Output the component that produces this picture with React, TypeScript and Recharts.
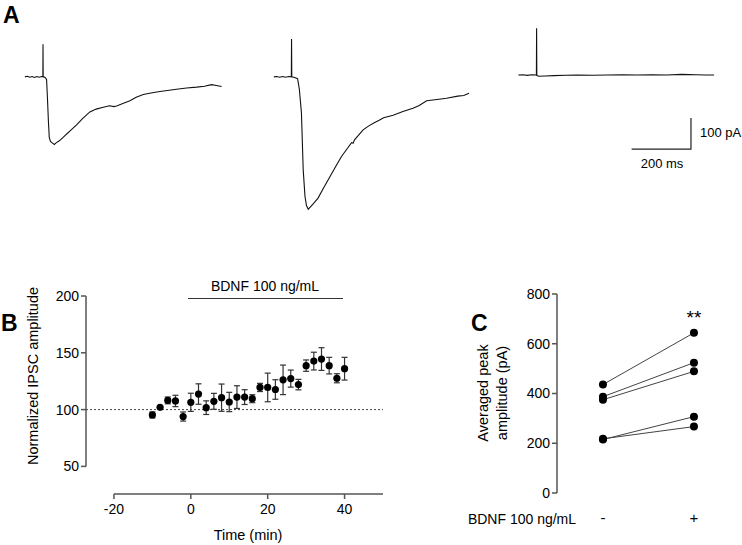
import React from "react";
import {
  LineChart,
  Line,
  XAxis,
  YAxis,
  ComposedChart,
  Scatter,
  ErrorBar,
  ReferenceLine,
} from "recharts";

const FONT = "'Liberation Sans', Arial, Helvetica, sans-serif";
const AXIS = "#555";

// Panel A: example sweeps, [time from sweep start (ms), current (pA)]
const sweepControl = [
  [0, 0], [8, 2], [16, -1], [24, 1], [32, -2], [40, 1], [48, -1], [56, 1], [60.5, 0], [61, 105], [61.5, 1],
  [68, -2], [73, -8], [76, -70], [79, -140], [82, -195], [86, -208], [92, -213],
  [99, -218], [106, -212], [115, -207], [128, -196], [140, -185], [155, -172],
  [174, -155], [195, -134], [219, -113], [240, -104], [264, -98], [285, -93],
  [300, -96], [309, -94], [330, -86], [354, -77], [375, -66], [399, -57],
  [425, -52], [455, -47], [480, -44], [511, -40], [545, -36], [579, -33],
  [605, -30], [629, -25], [645, -28], [663, -31],
];
const sweepBdnf = [
  [0, 0], [10, 1], [20, -1], [30, 1], [40, -1], [50, 1], [59, 0], [59.7, 122], [60.5, 0],
  [70, -2], [80, -6], [86, -40], [93, -116], [99, -300], [105, -386], [110, -415],
  [116, -427], [125, -418], [137, -405], [149, -391], [168, -358], [189, -322],
  [208, -290], [228, -257], [247, -232], [262, -212], [267, -214], [272, -203],
  [285, -189], [301, -171], [320, -158], [340, -147], [355, -140], [370, -132],
  [402, -124], [435, -112], [469, -101], [490, -92], [515, -77], [550, -73],
  [582, -69], [620, -62], [640, -60], [658, -53],
];
const sweepBlocked = [
  [0, 6], [15, 7], [30, 5], [45, 7], [61, 6], [61.7, 157], [62.4, 4], [70, 2], [90, 3],
  [120, 4], [160, 5], [200, 6], [250, 5], [300, 6], [350, 7], [400, 6], [450, 7],
  [500, 6], [550, 8], [600, 7], [630, 6], [660, 6],
];
const sweepStarts = [84, 923, 1747];
const scaleMs = 200;
const scalePa = 100;

// Panel B: normalized IPSC amplitude over time
const timeMin = [-10, -8, -6, -4, -2, 0, 2, 4, 6, 8, 10, 12, 14, 16, 18, 20, 22, 24, 26, 28, 30, 32, 34, 36, 38, 40];
const ipscMean = [95.3, 102, 108.1, 107.6, 93.9, 106.4, 113.7, 101.7, 107.3, 110.5, 106.7, 111, 111, 109.6, 119.5, 119.5, 117.7, 126.2, 127.3, 122, 138.7, 142.7, 144.5, 138.7, 127.6, 136];
const ipscSem = [2.6, 1, 3, 5, 4, 8, 9, 6, 7, 12, 8.5, 10, 6.5, 3.5, 3.6, 12.6, 8.6, 13, 7.5, 4.6, 5, 7.8, 10, 7.3, 4, 10];

// Panel C: averaged peak amplitude, paired cells
const conditionLabels = ["-", "+"];
const ampBefore = [436, 387, 375, 215, 218];
const ampAfter = [644, 524, 489, 307, 267];

const toPoints = (sweep: number[][], start: number) =>
  sweep.map(([t, v]) => ({ t: start + t, v }));

const traces = [sweepControl, sweepBdnf, sweepBlocked].map((s, i) => toPoints(s, sweepStarts[i]));
const scaleBar = [
  { t: 2129, v: -233 },
  { t: 2129 + scaleMs, v: -233 },
  { t: 2129 + scaleMs, v: -233 + scalePa },
];

const bData = timeMin.map((t, i) => ({ t, mean: ipscMean[i], sem: ipscSem[i] }));
const pairs = ampBefore.map((a, i) => [
  { x: 0, y: a },
  { x: 1, y: ampAfter[i] },
]);

const abs = (left: number, top: number, extra: React.CSSProperties = {}): React.CSSProperties => ({
  position: "absolute",
  left,
  top,
  fontFamily: FONT,
  color: "#000",
  whiteSpace: "nowrap",
  ...extra,
});

const Dot = (p: any) => <circle cx={p.cx} cy={p.cy} r={3.6} fill="#000" />;

const tickStyle = { fontSize: 14, fill: "#000", fontFamily: FONT };

export default function App() {
  return (
    <div style={{ position: "absolute", left: 0, top: 0, width: 742, height: 545, background: "#fff", overflow: "hidden" }}>
      {/* Panel A */}
      <div style={abs(0, 0)}>
        <LineChart width={742} height={230} margin={{ top: 0, right: 0, bottom: 0, left: 0 }}>
          <XAxis type="number" dataKey="t" domain={[0, 2501]} allowDataOverflow hide />
          <YAxis type="number" domain={[-494, 248]} allowDataOverflow hide />
          {traces.map((d, i) => (
            <Line key={i} data={d} dataKey="v" stroke="#111" strokeWidth={1.1} dot={false} activeDot={false} isAnimationActive={false} />
          ))}
          <Line data={scaleBar} dataKey="v" stroke="#222" strokeWidth={1.2} dot={false} activeDot={false} isAnimationActive={false} />
        </LineChart>
      </div>
      <div style={abs(3, 2, { fontSize: 23, fontWeight: "bold" })}>A</div>
      <div style={abs(700, 125, { fontSize: 13 })}>100 pA</div>
      <div style={abs(662, 163, { fontSize: 13, transform: "translate(-50%, -50%)" })}>200 ms</div>

      {/* Panel B */}
      <div style={abs(0, 280)}>
        <ComposedChart width={400} height={265} margin={{ top: 16, right: 17, bottom: 0, left: 0 }}>
          <XAxis
            type="number"
            dataKey="t"
            domain={[-27.27, 50]}
            allowDataOverflow
            ticks={[-20, 0, 20, 40]}
            axisLine={false}
            tickLine={{ stroke: AXIS, strokeWidth: 1.5 }}
            tickSize={5}
            tickMargin={5}
            height={51}
            tick={tickStyle}
          />
          <YAxis
            type="number"
            domain={[25.7, 200]}
            allowDataOverflow
            ticks={[50, 100, 150, 200]}
            axisLine={false}
            tickLine={{ stroke: AXIS, strokeWidth: 1.5 }}
            tickSize={5}
            tickMargin={2}
            width={86}
            tick={tickStyle}
          />
          <ReferenceLine y={100} stroke="#444" strokeDasharray="2 2" strokeWidth={1} />
          <ReferenceLine segment={[{ x: -27.27, y: 50 }, { x: -27.27, y: 200 }]} stroke={AXIS} strokeWidth={1.5} ifOverflow="visible" />
          <ReferenceLine segment={[{ x: -20, y: 25.7 }, { x: 50, y: 25.7 }]} stroke={AXIS} strokeWidth={1.5} ifOverflow="visible" />
          <Scatter data={bData} dataKey="mean" shape={Dot} isAnimationActive={false}>
            <ErrorBar dataKey="sem" direction="y" width={3} stroke="#333" strokeWidth={1.2} isAnimationActive={false} />
          </Scatter>
        </ComposedChart>
      </div>
      <div style={abs(1, 310, { fontSize: 23, fontWeight: "bold" })}>B</div>
      <div style={{ position: "absolute", left: 188, top: 298, width: 155, height: 0, borderTop: "1.5px solid #333" }} />
      <div style={abs(265, 286, { fontSize: 14, transform: "translate(-50%, -50%)" })}>BDNF 100 ng/mL</div>
      <div style={abs(33, 376, { fontSize: 14.5, transform: "translate(-50%, -50%) rotate(-90deg)" })}>Normalized IPSC amplitude</div>
      <div style={abs(248, 535, { fontSize: 14.5, transform: "translate(-50%, -50%)" })}>Time (min)</div>

      {/* Panel C */}
      <div style={abs(440, 280)}>
        <ComposedChart width={302} height={265} margin={{ top: 14, right: 12, bottom: 0, left: 0 }}>
          <XAxis
            type="number"
            dataKey="x"
            domain={[-0.505, 1.396]}
            allowDataOverflow
            ticks={[0, 1]}
            tickFormatter={(v: number) => conditionLabels[v]}
            axisLine={false}
            tickLine={false}
            tickSize={6}
            tickMargin={13}
            height={52}
            tick={{ ...tickStyle, fontSize: 15 }}
          />
          <YAxis
            type="number"
            domain={[0, 800]}
            ticks={[0, 200, 400, 600, 800]}
            axisLine={{ stroke: AXIS, strokeWidth: 1.5 }}
            tickLine={{ stroke: AXIS, strokeWidth: 1.5 }}
            tickSize={5}
            tickMargin={2}
            width={117}
            tick={tickStyle}
          />
          {pairs.map((d, i) => (
            <Line
              key={i}
              data={d}
              dataKey="y"
              stroke="#444"
              strokeWidth={1}
              dot={{ r: 4, fill: "#000", stroke: "none" }}
              activeDot={false}
              isAnimationActive={false}
            />
          ))}
        </ComposedChart>
      </div>
      <div style={abs(471, 310, { fontSize: 23, fontWeight: "bold" })}>C</div>
      <div style={abs(694, 318, { fontSize: 19, transform: "translate(-50%, -50%)" })}>**</div>
      <div style={abs(522, 519, { fontSize: 14, transform: "translate(-50%, -50%)" })}>BDNF 100 ng/mL</div>
      <div style={abs(493, 393, { fontSize: 14.5, lineHeight: "19px", textAlign: "center", transform: "translate(-50%, -50%) rotate(-90deg)" })}>
        Averaged peak
        <br />
        amplitude (pA)
      </div>
    </div>
  );
}
